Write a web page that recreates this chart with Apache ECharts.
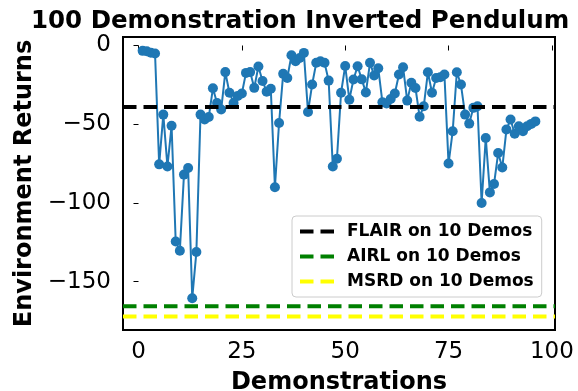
<!DOCTYPE html>
<html>
<head>
<meta charset="utf-8">
<script src="https://cdn.jsdelivr.net/npm/echarts@6/dist/echarts.min.js"></script>
<style>html,body{margin:0;padding:0;background:#fff;}#c{width:578px;height:391px;}</style>
</head>
<body>
<div id="c"></div>
<script>
// Environment returns for each of the 96 plotted demonstrations (x = 1..96)
const returnsValues = [
  -3.4, -3.6, -4.6, -5.1, -75.5, -43.9, -76.8, -51.0, -124.5, -130.4,
  -82.0, -77.8, -160.5, -131.2, -43.9, -47.0, -45.4, -27.2, -36.5, -40.7,
  -16.9, -30.0, -36.5, -32.0, -30.5, -17.4, -16.9, -26.9, -13.3, -22.5,
  -29.3, -27.5, -90.0, -49.2, -18.0, -20.6, -6.2, -10.0, -7.9, -4.7,
  -42.2, -24.8, -11.0, -10.0, -11.0, -22.3, -76.8, -71.9, -30.0, -13.0,
  -34.4, -21.6, -13.2, -21.5, -29.8, -11.0, -19.0, -14.5, -36.0, -36.8,
  -34.0, -30.5, -18.4, -13.8, -35.0, -23.7, -27.0, -45.2, -38.6, -17.0,
  -30.0, -20.6, -20.2, -18.4, -75.0, -54.5, -17.0, -24.8, -43.9, -49.6,
  -39.6, -38.6, -100.0, -58.7, -93.3, -88.0, -68.3, -77.5, -53.4, -47.0,
  -56.0, -51.3, -54.5, -51.3, -49.8, -48.2
];
const baselineNames = ["FLAIR on 10 Demos", "AIRL on 10 Demos", "MSRD on 10 Demos"];
const baselineValues = [-39.0, -165.6, -172.2];
const baselineColors = ["#000000", "#008000", "#ffff00"];
const xTicks = [0, 25, 50, 75, 100];
const yTicks = [-150, -100, -50, 0];
const X_MIN = -3.75, X_MAX = 100.75, Y_MIN = -180.7, Y_MAX = 5.4;

const FONT = "DejaVu Sans";
const mainData = returnsValues.map((v, i) => [i + 1, v]);
const DASH_ICON = 'path://M0,0H13.5V4H0Z M20.5,0H34V4H20.5Z';

const series = [{
  type: 'line',
  data: mainData,
  symbol: 'circle',
  symbolSize: 10,
  lineStyle: { color: '#1f77b4', width: 2 },
  itemStyle: { color: '#1f77b4' },
  z: 2,
  animation: false
}];
baselineNames.forEach((n, k) => {
  series.push({
    type: 'line',
    name: n,
    data: [[X_MIN, baselineValues[k]], [X_MAX, baselineValues[k]]],
    symbol: 'none',
    lineStyle: { color: baselineColors[k], width: 4, type: [13.5, 7] },
    itemStyle: { color: baselineColors[k] },
    z: 3,
    animation: false
  });
});

const chart = echarts.init(document.getElementById('c'), null, { renderer: 'canvas' });
chart.setOption({
  animation: false,
  backgroundColor: '#fff',
  title: {
    text: '100 Demonstration Inverted Pendulum',
    left: 26, top: 4,
    textStyle: { fontFamily: FONT, fontSize: 24.5, fontWeight: 'bold', color: '#000' }
  },
  grid: { left: 123, right: 23, top: 37, bottom: 61, show: true, borderColor: '#000', borderWidth: 2,
    backgroundColor: 'transparent', outerBoundsMode: 'none', containLabel: false },
  xAxis: {
    type: 'value', min: X_MIN, max: X_MAX,
    name: 'Demonstrations', nameLocation: 'middle', nameGap: 41,
    nameTextStyle: { fontFamily: FONT, fontSize: 24, fontWeight: 'bold', color: '#000' },
    axisLine: { show: false },
    splitLine: { show: false },
    axisTick: { show: true, length: 5, lineStyle: { color: '#000', width: 1 }, customValues: xTicks },
    axisLabel: { fontFamily: FONT, fontSize: 23, color: '#000', margin: 11, customValues: xTicks }
  },
  yAxis: {
    type: 'value', min: Y_MIN, max: Y_MAX,
    name: 'Environment Returns', nameLocation: 'middle', nameGap: 73,
    nameTextStyle: { fontFamily: FONT, fontSize: 24, fontWeight: 'bold', color: '#000' },
    axisLine: { show: false },
    splitLine: { show: false },
    axisTick: { show: true, length: 5, lineStyle: { color: '#000', width: 1 }, customValues: yTicks },
    axisLabel: { fontFamily: FONT, fontSize: 23, color: '#000', margin: 12, customValues: yTicks,
      formatter: v => String(v).replace('-', '\u2212') }
  },
  legend: {
    data: baselineNames.map(n => ({ name: n, icon: DASH_ICON })),
    orient: 'vertical',
    left: 292, top: 216,
    padding: [7, 8, 7, 8],
    itemWidth: 40, itemHeight: 4, itemGap: 8,
    backgroundColor: 'rgba(255,255,255,0.8)',
    borderColor: '#cccccc', borderWidth: 1, borderRadius: 4,
    textStyle: { fontFamily: FONT, fontSize: 17, fontWeight: 'bold', color: '#000', padding: [0, 0, 0, 5] }
  },
  series: series
});
</script>
</body>
</html>
